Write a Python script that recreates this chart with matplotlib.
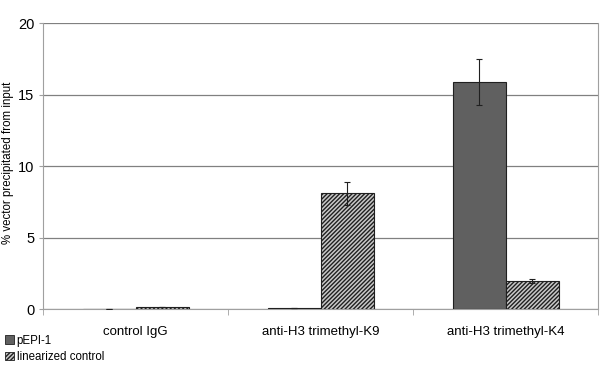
import numpy as np
import matplotlib
matplotlib.use("Agg")
from matplotlib import pyplot as plt
from matplotlib.patches import Patch

categories = ["control IgG", "anti-H3 trimethyl-K9", "anti-H3 trimethyl-K4"]
pepi = [0.02, 0.08, 15.85]
pepi_err = [0.0, 0.0, 1.6]
linear = [0.15, 8.1, 1.98]
linear_err = [0.0, 0.8, 0.15]
series_names = ["pEPI-1", "linearized control"]

plt.rcParams['font.family'] = ['Liberation Sans', 'DejaVu Sans']
plt.rcParams['hatch.linewidth'] = 1.0
plt.rcParams['hatch.color'] = '#383838'

fig = plt.figure(figsize=(6, 3.71), dpi=100)
ax = fig.add_axes([0.072, 0.167, 0.925, 0.771])

x = np.arange(len(categories))
w = 0.286
ax.bar(x - w / 2, pepi, w, color='#606060', edgecolor='#202020', lw=0.8,
       yerr=pepi_err, error_kw=dict(ecolor='#202020', elinewidth=0.8, capsize=2.5, capthick=0.8),
       zorder=3)
ax.bar(x + w / 2, linear, w, color='#c8c8c8', edgecolor='#202020', lw=0.8,
       hatch='////////',
       yerr=linear_err, error_kw=dict(ecolor='#202020', elinewidth=0.8, capsize=2.5, capthick=0.8),
       zorder=3)

ax.set_xlim(-0.5, 2.5)
ax.set_ylim(0, 20)
ax.set_yticks([0, 5, 10, 15, 20])
ax.yaxis.grid(True, color='#808080', lw=0.9, zorder=0)
ax.set_xticks(x)
ax.set_xticklabels(categories, fontsize=9.5)
ax.set_xticks([-0.5, 0.5, 1.5, 2.5], minor=True)
ax.tick_params(axis='x', which='major', length=0, pad=12)
ax.tick_params(axis='x', which='minor', length=4, color='#a0a0a0', direction='out')
ax.tick_params(axis='y', labelsize=10.5, length=3, color='#a0a0a0')
ax.set_ylabel("% vector precipitated from input", fontsize=8.3, va='center')
ax.yaxis.set_label_coords(-0.063, 0.51)

ax.spines['top'].set_visible(False)
for s in ['left', 'right', 'bottom']:
    ax.spines[s].set_color('#a0a0a0')

handles = [Patch(facecolor='#606060', edgecolor='#202020', lw=0.6),
           Patch(facecolor='#c8c8c8', edgecolor='#202020', lw=0.6, hatch='////////')]
fig.legend(handles, series_names, loc='lower left', bbox_to_anchor=(-0.005, 0.0),
           frameon=False, fontsize=8.3, handlelength=0.8, handleheight=0.8,
           handletextpad=0.2, labelspacing=0.35, borderpad=0.2)

fig.savefig("out.png", dpi=100)
